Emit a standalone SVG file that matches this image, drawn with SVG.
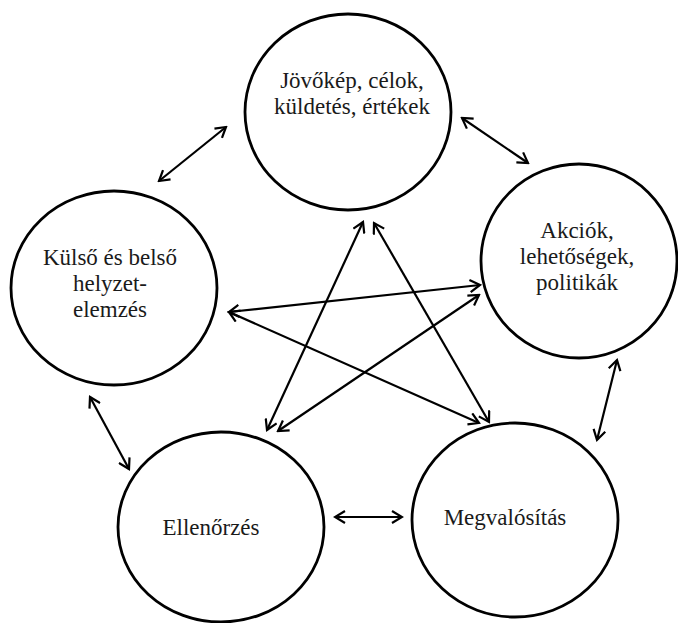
<svg xmlns="http://www.w3.org/2000/svg" width="678" height="623" viewBox="0 0 678 623">
<style>
.node{fill:#fff;stroke:#000;stroke-width:2.8}
.lbl{font-family:'Liberation Serif','DejaVu Serif',serif;font-size:23px;fill:#1a1a1a;text-anchor:middle}
.c{fill:none;stroke:#000;stroke-width:2.2;marker-start:url(#ah);marker-end:url(#ah)}
</style>
<defs>
<marker id="ah" viewBox="-12 -7 14 14" refX="0" refY="0" markerWidth="14" markerHeight="14" markerUnits="userSpaceOnUse" orient="auto-start-reverse">
<path d="M-10,-6 L0,0 L-10,6" fill="none" stroke="#000" stroke-width="2.2" stroke-linejoin="miter"/>
</marker>
</defs>
<rect width="678" height="623" fill="#fff"/>
<g id="n-jovokep">
<ellipse class="node" cx="348" cy="112" rx="103" ry="98"/>
<text class="lbl" font-family="Liberation Serif, DejaVu Serif, serif" x="352" y="88">Jövőkép,  célok,</text>
<text class="lbl" font-family="Liberation Serif, DejaVu Serif, serif" x="352" y="114">küldetés,  értékek</text>
</g>
<g id="n-akciok">
<ellipse class="node" cx="579" cy="261" rx="98" ry="97"/>
<text class="lbl" font-family="Liberation Serif, DejaVu Serif, serif" x="577" y="238">Akciók,</text>
<text class="lbl" font-family="Liberation Serif, DejaVu Serif, serif" x="577" y="264">lehetőségek,</text>
<text class="lbl" font-family="Liberation Serif, DejaVu Serif, serif" x="577" y="290">politikák</text>
</g>
<g id="n-kulso">
<ellipse class="node" cx="114" cy="288" rx="103" ry="97"/>
<text class="lbl" font-family="Liberation Serif, DejaVu Serif, serif" x="110" y="265">Külső  és belső</text>
<text class="lbl" font-family="Liberation Serif, DejaVu Serif, serif" x="110" y="291">helyzet-</text>
<text class="lbl" font-family="Liberation Serif, DejaVu Serif, serif" x="110" y="317">elemzés</text>
</g>
<g id="n-ellenorzes">
<ellipse class="node" cx="221" cy="527" rx="103" ry="95"/>
<text class="lbl" font-family="Liberation Serif, DejaVu Serif, serif" x="211" y="535">Ellenőrzés</text>
</g>
<g id="n-megvalositas">
<ellipse class="node" cx="515" cy="520" rx="103" ry="97"/>
<text class="lbl" font-family="Liberation Serif, DejaVu Serif, serif" x="505" y="525">Megvalósítás</text>
</g>
<g id="connectors">
<line class="c" x1="159" y1="181" x2="226" y2="127"/>
<line class="c" x1="462" y1="118" x2="528" y2="163"/>
<line class="c" x1="90" y1="397" x2="129" y2="469"/>
<line class="c" x1="617" y1="360" x2="597" y2="440"/>
<line class="c" x1="335" y1="517" x2="402" y2="517"/>
<line class="c" x1="363" y1="222" x2="267" y2="430"/>
<line class="c" x1="374" y1="223" x2="489" y2="422"/>
<line class="c" x1="229" y1="312" x2="480" y2="285"/>
<line class="c" x1="229" y1="312" x2="479" y2="423"/>
<line class="c" x1="278" y1="431" x2="479" y2="295"/>
</g>
</svg>
